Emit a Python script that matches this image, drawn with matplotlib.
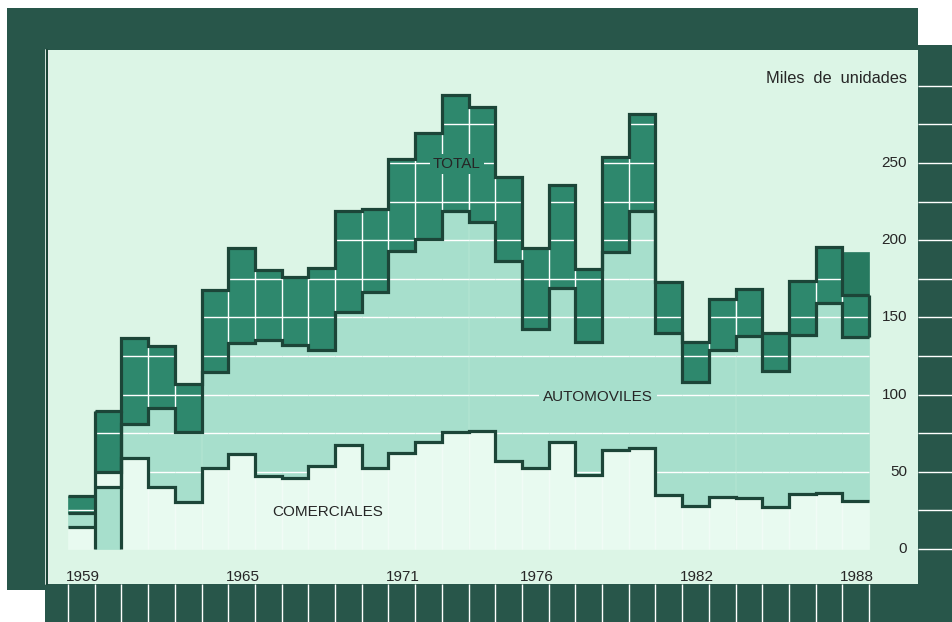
import matplotlib.pyplot as plt
from matplotlib.patches import Rectangle
import numpy as np

plt.rcParams['font.family'] = ['Liberation Sans', 'DejaVu Sans']

# data (miles de unidades)
years = np.arange(1959, 1989)
total = [34.5, 89.4, 136.7, 131.5, 106.9, 167.7, 195.0, 180.7, 176.4, 181.8,
         219.0, 220.2, 252.6, 269.2, 294.0, 286.5, 240.7, 195.2, 235.8, 181.1,
         254.2, 281.5, 173.0, 134.3, 161.7, 168.2, 140.1, 173.8, 195.4, 164.5]
automoviles = [23.1, 50.0, 81.0, 91.3, 76.0, 114.8, 133.2, 135.4, 132.0, 128.9,
               153.7, 166.3, 193.2, 200.8, 219.0, 212.0, 186.5, 142.3, 169.0, 134.3,
               192.6, 219.0, 139.7, 108.4, 128.9, 137.9, 115.6, 138.6, 159.1, 137.5]
comerciales = [14.4, 40.0, 58.7, 40.4, 30.6, 52.2, 61.5, 47.3, 46.2, 53.8,
               67.4, 52.2, 62.0, 69.5, 75.6, 76.6, 57.0, 52.2, 69.0, 47.9,
               64.1, 65.2, 35.0, 28.0, 33.5, 32.8, 27.4, 35.4, 36.5, 31.3]
avance_1988 = 192.6
year_labels = [1959, 1965, 1971, 1976, 1982, 1988]
y_labels = [0, 50, 100, 150, 200, 250]
grid_levels = np.arange(25, 301, 25)

total = np.array(total)
automoviles = np.array(automoviles)
comerciales = np.array(comerciales)

c_panel = '#dcf5e6'
c_comm = '#e8faf0'
c_auto = '#a7dfcc'
c_total = '#2e886d'
c_avance = '#277a60'
c_line = '#1c4538'
c_frame = '#28564a'
c_text = '#262626'
lw = 2.3

W, H = 952, 622
fig = plt.figure(figsize=(W / 100, H / 100), dpi=100)
fig.patch.set_facecolor('white')

# frame around the chart panel (figure pixels)
bg = fig.add_axes([0, 0, 1, 1], zorder=0)
bg.set_xlim(0, W)
bg.set_ylim(H, 0)
bg.axis('off')
for x0, y0, w, h in [(7, 8, 911, 42), (7, 8, 38, 582), (918, 45, 34, 577), (45, 584, 907, 38)]:
    bg.add_patch(Rectangle((x0, y0), w, h, facecolor=c_frame, edgecolor='none'))
bg.plot([45.8, 45.8], [50, 584], color='#dfeee6', lw=1.2)
bg.plot([47.3, 47.3], [50, 584], color=c_line, lw=1.6)

# chart panel
px_left, px_right, px_top, px_bottom = 48.5, 918, 50, 584
ax = fig.add_axes([px_left / W, 1 - px_bottom / H, (px_right - px_left) / W,
                   (px_bottom - px_top) / H], zorder=1)
ax.set_facecolor(c_panel)
for s in ax.spines.values():
    s.set_visible(False)
ax.set_xticks([])
ax.set_yticks([])

# pixel -> data mapping: 1959 starts at x=68, 26.7 px per year; 0 at y=549, 1.544 px per unit
x0, dx, y0, dy = 68, 26.7, 549, 1.544
ax.set_xlim(1959 + (px_left - x0) / dx, 1959 + (px_right - x0) / dx)
ax.set_ylim((y0 - px_bottom) / dy, (y0 - px_top) / dy)
ylo, yhi = ax.get_ylim()
xlo, xhi = ax.get_xlim()

# filled bands (1960 is printed with the two lower shades swapped)
comm_colors = [c_auto if y == 1960 else c_comm for y in years]
mid_colors = [c_comm if y == 1960 else c_auto for y in years]
ax.bar(years, comerciales, width=1, align='edge', color=comm_colors,
       edgecolor=comm_colors, lw=0.5, zorder=1)
ax.bar(years, automoviles - comerciales, bottom=comerciales, width=1, align='edge',
       color=mid_colors, edgecolor=mid_colors, lw=0.5, zorder=1)
ax.bar(years, total - automoviles, bottom=automoviles, width=1, align='edge',
       color=c_total, edgecolor=c_total, lw=0.5, zorder=1)
ax.bar([1988], [avance_1988 - total[-1]], bottom=[total[-1]], width=1, align='edge',
       color=c_avance, edgecolor=c_avance, lw=0.5, zorder=1)

# white grid inside the bands
hx0, hx1, hy = [], [], []
for y, c, t in zip(years, comerciales, total):
    for g in grid_levels:
        if c + 2 < g < t - 2:
            hx0.append(y)
            hx1.append(y + 1)
            hy.append(g)
ax.hlines(hy, hx0, hx1, colors='white', lw=1.0, zorder=2)
for i in range(2, len(years)):
    lo = max(automoviles[i - 1], automoviles[i])
    hi = min(total[i - 1], total[i])
    if hi > lo:
        ax.vlines(years[i], lo, hi, colors='white', lw=1.0, zorder=2)
    ax.vlines(years[i], 0, min(comerciales[i - 1], comerciales[i]),
              colors='white', lw=1.0, alpha=0.45, zorder=2)

# outlines
edges = np.append(years, 1989)
for series in (total, automoviles, comerciales):
    ax.stairs(series[1:], edges[1:], baseline=None, color=c_line, lw=lw, zorder=4)
ax.hlines([total[0], automoviles[0], comerciales[0]], 1959, 1960,
          colors=c_line, lw=lw, zorder=4)
ax.vlines([1960, 1961], 0, total[1], colors=c_line, lw=lw, zorder=4)
ax.vlines(1989, automoviles[-1], total[-1], colors=c_line, lw=lw, zorder=4)

# frame ticks continuing the grid
ax.hlines(np.arange(0, 301, 25), xhi, xhi + 3, colors='white', lw=1.0,
          clip_on=False, zorder=6)
ax.vlines(edges, ylo, ylo - 30, colors='white', lw=1.0, clip_on=False, zorder=6)

# labels
fs = 11
for y in year_labels:
    ax.text(y + 0.55, (y0 - 577) / dy, str(y), ha='center', va='center',
            fontsize=fs, color=c_text, zorder=5)
xt = 1959 + (907 - x0) / dx
for v in y_labels:
    ax.text(xt, v, str(v), ha='right', va='center', fontsize=fs, color=c_text, zorder=5)
ax.text(xt, (y0 - 78) / dy, 'Miles  de  unidades', ha='right', va='center',
        fontsize=11.8, color=c_text, zorder=5)
ax.text(1959 + (457 - x0) / dx, (y0 - 164) / dy, 'TOTAL', ha='center', va='center',
        fontsize=fs, color=c_text, zorder=5,
        bbox=dict(facecolor=c_total, edgecolor='none', pad=2))
ax.text(1959 + (598 - x0) / dx, (y0 - 397) / dy, 'AUTOMOVILES', ha='center',
        va='center', fontsize=fs, color=c_text, zorder=5,
        bbox=dict(facecolor=c_auto, edgecolor='none', pad=3))
ax.text(1959 + (328 - x0) / dx, (y0 - 512) / dy, 'COMERCIALES', ha='center',
        va='center', fontsize=fs, color=c_text, zorder=5)

fig.savefig('out.png', dpi=100)
